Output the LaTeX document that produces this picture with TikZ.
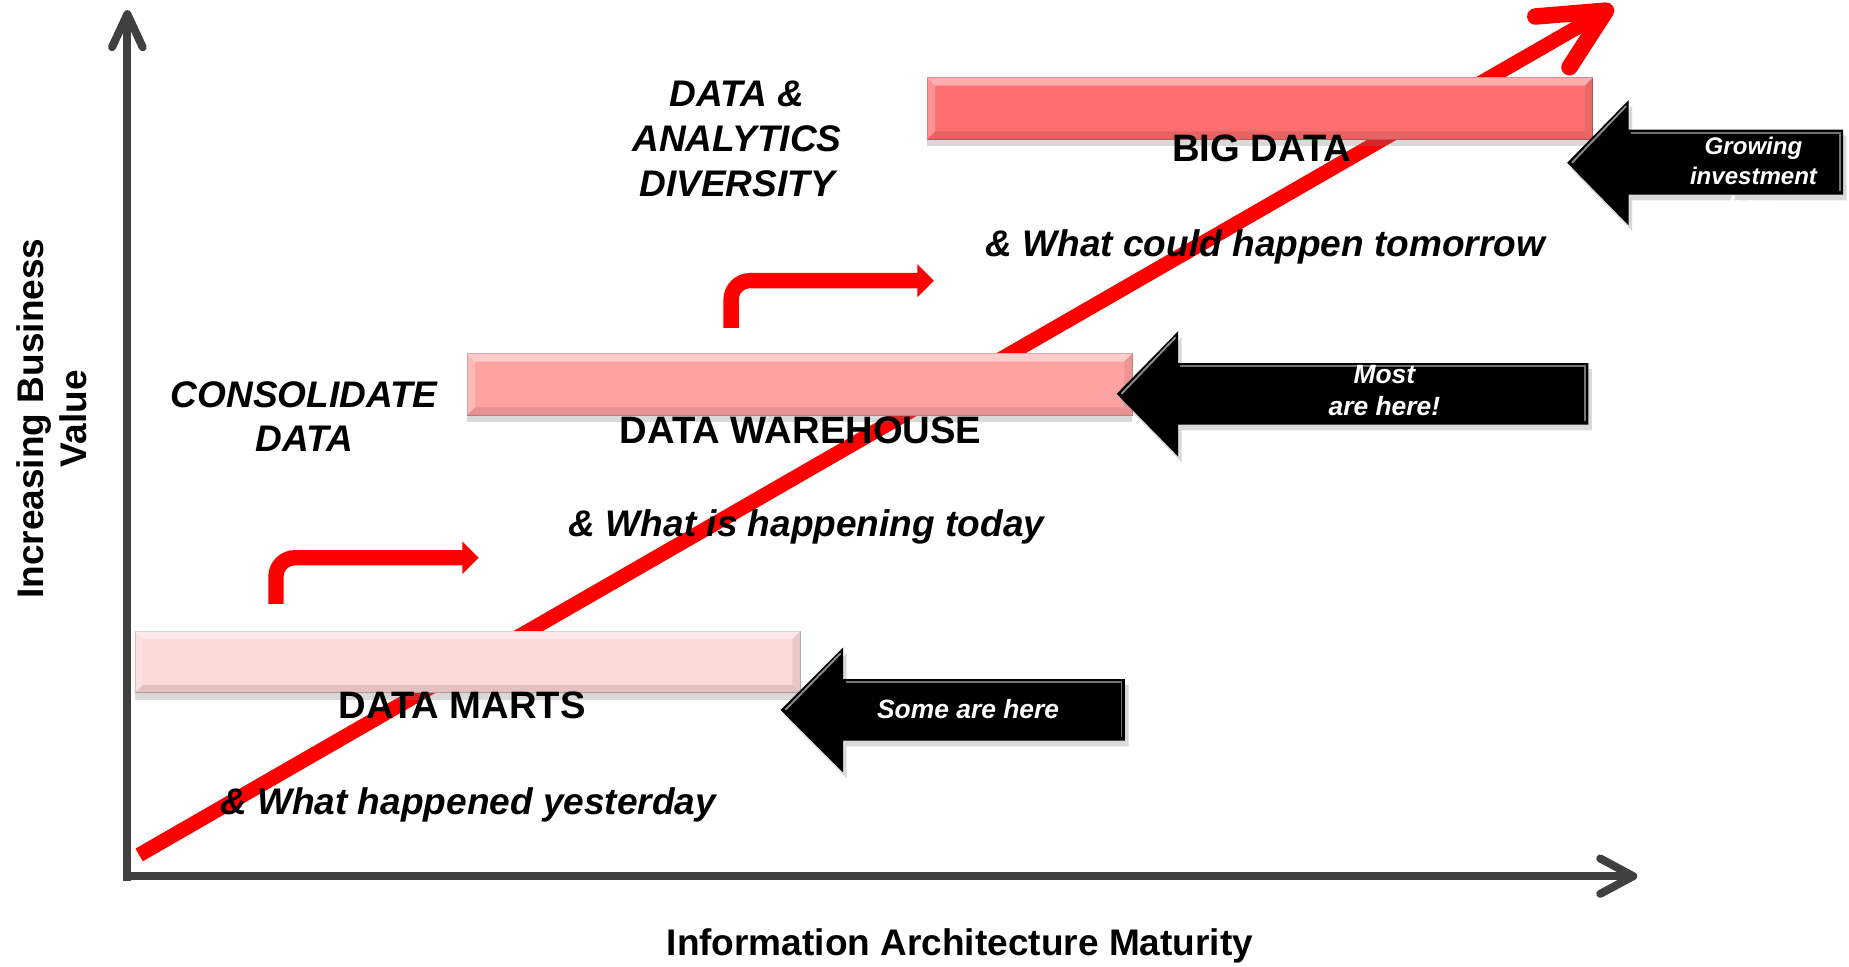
\documentclass[tikz,border=0pt]{standalone}
\usepackage{fontspec}
\setmainfont{Liberation Sans}
\usetikzlibrary{arrows.meta,shadows,calc}
\definecolor{axisgray}{HTML}{404040}
\definecolor{martpink}{HTML}{FDD8D8}
\definecolor{whpink}{HTML}{FFA2A2}
\definecolor{bigpink}{HTML}{FF6F6F}
\newcommand\mybevel[1]{%
  \fill[white,opacity=.45] (#1.north west) -- (#1.north east) -- ([shift={(-7,7)}]#1.north east) -- ([shift={(7,7)}]#1.north west) -- cycle;
  \fill[white,opacity=.25] (#1.north west) -- ([shift={(7,7)}]#1.north west) -- ([shift={(7,-7)}]#1.south west) -- (#1.south west) -- cycle;
  \fill[black,opacity=.08] (#1.north east) -- ([shift={(-7,7)}]#1.north east) -- ([shift={(-7,-7)}]#1.south east) -- (#1.south east) -- cycle;
  \fill[black,opacity=.10] (#1.south west) -- (#1.south east) -- ([shift={(-7,-7)}]#1.south east) -- ([shift={(7,-7)}]#1.south west) -- cycle;
}
\begin{document}
\begin{tikzpicture}[x=0.5pt,y=-0.5pt,
  axis/.style={draw=axisgray, line width=3.4pt},
  axishead/.style={draw=axisgray, line width=3.4pt, line cap=round, line join=round},
  redshaft/.style={draw=red, line width=6.2pt},
  redhead/.style={draw=red, line width=7pt, line cap=round, line join=round},
  bent/.style={draw=red, line width=6.5pt, rounded corners=8pt, -{Triangle[length=7pt,width=13.5pt]}},
  bar/.style={rectangle, draw=#1!80!black, line width=0.4pt, fill=#1, inner sep=0pt,
    minimum width=282pt, minimum height=26pt,
    drop shadow={opacity=0.3, shadow xshift=0pt, shadow yshift=-3pt}},
  blackarrow/.style={fill=black, drop shadow={opacity=0.3, shadow xshift=1.5pt, shadow yshift=-2.5pt}},
  boxlabel/.style={font=\bfseries\fontsize{16.2}{19}\selectfont, inner sep=0pt},
  note/.style={font=\bfseries\itshape\fontsize{15.7}{18.7}\selectfont, align=center, inner sep=0pt},
  axislabel/.style={font=\bfseries\fontsize{15.7}{18.5}\selectfont, align=center, inner sep=0pt},
  whitelabel/.style={text=white, font=\bfseries\itshape\fontsize{11.2}{13.5}\selectfont, align=center, inner sep=0pt}
]
\useasboundingbox (0,0) rectangle (1568,820);

% axes
\coordinate (origin) at (108,743);
\coordinate (ytip) at (108,12);
\coordinate (xtip) at (1385,743);
\draw[axis] (108,747) -- (ytip);
\draw[axis] (105,743) -- (xtip);
\draw[axishead] ($(ytip)+(-13,28)$) -- (ytip) -- ($(ytip)+(13,28)$);
\draw[axishead] ($(xtip)+(-28,-15)$) -- (xtip) -- ($(xtip)+(-28,15)$);

% red trend line
\coordinate (rstart) at (118,725);
\coordinate (rtip) at (1362,9);
\draw[redshaft] (rstart) -- ($(rtip)+(-5,3)$);

% bars
\node[bar=martpink] (marts) at (396.5,561.5) {};
\node[bar=whpink] (wh) at (678,326) {};
\node[bar=bigpink] (big) at (1068.5,92) {};
\mybevel{marts}
\mybevel{wh}
\mybevel{big}

% red arrow head
\draw[redhead] (1302,14) -- (rtip) -- (1331,57);

% bent arrows
\coordinate (b1s) at (234,512);
\coordinate (b1c) at (234,473);
\coordinate (b1e) at (406,473);
\draw[bent] (b1s) -- (b1c) -- (b1e);
\coordinate (b2s) at (620,278);
\coordinate (b2c) at (620,238);
\coordinate (b2e) at (792,238);
\draw[bent] (b2s) -- (b2c) -- (b2e);

% black arrows
\path[blackarrow] (662,602) -- (715,549) -- (715,576) -- (954,576) -- (954,628) -- (715,628) -- (715,655) -- cycle;
\path[blackarrow] (947,334) -- (999,281) -- (999,308) -- (1347,308) -- (1347,360) -- (999,360) -- (999,387) -- cycle;
\path[blackarrow] (1329,138) -- (1381,85) -- (1381,110) -- (1563,110) -- (1563,165) -- (1381,165) -- (1381,191) -- cycle;
\draw[black!55, line width=0.8pt] (717,578.5) -- (951,578.5) -- (951,625);
\draw[black!55, line width=0.8pt] (1001,310.5) -- (1344,310.5) -- (1344,357);
\draw[black!55, line width=0.8pt] (1383,112.5) -- (1560,112.5) -- (1560,162);
\draw[black!45, line width=0.8pt] (666,602) -- (713,554);
\draw[black!45, line width=0.8pt] (951,334) -- (997,286);
\draw[black!45, line width=0.8pt] (1333,138) -- (1379,90);

% bar labels
\node[boxlabel] (lmarts) at (392,598) {DATA MARTS};
\node[boxlabel] (lwh) at (679,365) {DATA WAREHOUSE};
\node[boxlabel] (lbig) at (1070,126) {BIG DATA};

% notes
\node[note] (n1) at (397,683) {\& What happened yesterday};
\node[note] (n2) at (684,447) {\& What is happening today};
\node[note] (n3) at (1073,209) {\& What could happen tomorrow};
\node[note] (cons) at (258,353) {CONSOLIDATE\\DATA};
\node[note, font=\bfseries\itshape\fontsize{15.7}{19}\selectfont] (div) at (625,118) {DATA \&\\ANALYTICS\\DIVERSITY};

% white labels
\node[whitelabel] (w1) at (821,601) {Some are here};
\node[whitelabel] (w2) at (1174,331.5) {Most\\are here!};
\node[whitelabel, font=\bfseries\itshape\fontsize{10.2}{12.5}\selectfont, anchor=north] (w3) at (1487,116) {Growing\\investment\\here};

% axis labels
\node[axislabel] (xl) at (814,802) {Information Architecture Maturity};
\node[axislabel, rotate=90] (yl) at (44,355) {Increasing Business\\Value};
\end{tikzpicture}
\end{document}
